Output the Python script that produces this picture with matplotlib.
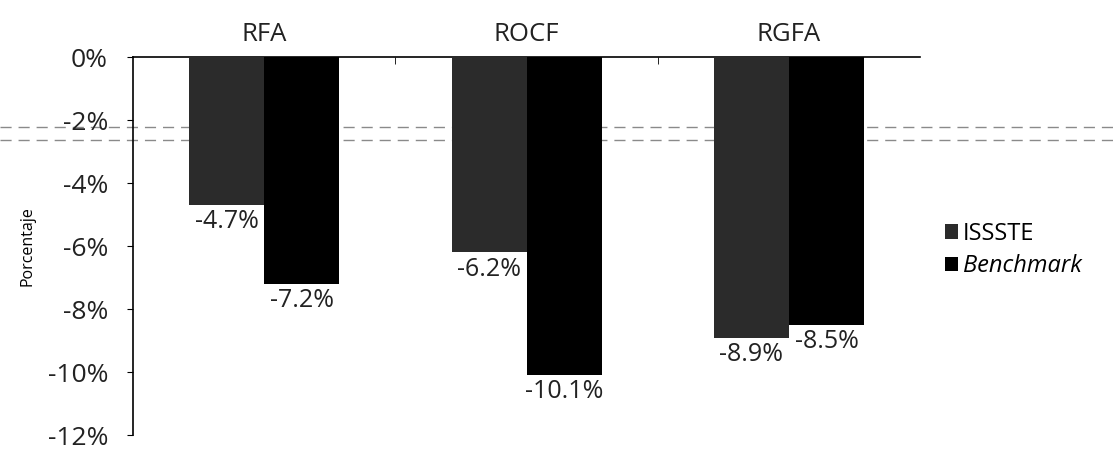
import numpy as np
import matplotlib
matplotlib.use('Agg')
import matplotlib.pyplot as plt
from matplotlib.lines import Line2D

plt.rcParams['font.family'] = ['Open Sans', 'DejaVu Sans']

# datos
categorias = ['RFA', 'ROCF', 'RGFA']
issste = [-4.7, -6.2, -8.9]
benchmark = [-7.2, -10.1, -8.5]
series = ['ISSSTE', 'Benchmark']
yticks = [0, -2, -4, -6, -8, -10, -12]

fig = plt.figure(figsize=(11.18, 4.5), dpi=100)
ax = fig.add_axes([0.119, 0.033, 0.704, 0.84])
ax.set_facecolor('none')

x = np.arange(len(categorias))
w = 0.286
b1 = ax.bar(x - w/2, issste, w, color='#2b2b2b', label=series[0], zorder=3)
b2 = ax.bar(x + w/2, benchmark, w, color='black', label=series[1], zorder=3)

# etiquetas de valor bajo cada barra
for bars, vals in ((b1, issste), (b2, benchmark)):
    for r, v in zip(bars, vals):
        ax.annotate(('%.1f%%' % v), (r.get_x() + r.get_width()/2, v),
                    xytext=(0, -3), textcoords='offset points',
                    ha='center', va='top', fontsize=18, color='#222')

ax.set_ylim(-12, 0)
ax.set_xlim(-0.5, 2.5)
ax.set_yticks(yticks)
ax.set_yticklabels(['%d%%' % t for t in yticks], fontsize=19, color='#222')
ax.tick_params(axis='y', direction='out', length=4, pad=14)

ax.xaxis.tick_top()
ax.set_xticks(x)
ax.set_xticklabels(categorias, fontsize=18.5, color='#222')
ax.set_xticks([0.5, 1.5], minor=True)
ax.tick_params(axis='x', which='major', length=0, pad=7)
ax.tick_params(axis='x', which='minor', direction='in', length=5, top=True)

ax.spines['bottom'].set_visible(False)
ax.spines['right'].set_visible(False)
for s in ('top', 'left'):
    ax.spines[s].set_linewidth(1.2)

ax.set_ylabel('Porcentaje', fontsize=11.5, labelpad=9)

leg = ax.legend(loc='center left', bbox_to_anchor=(1.005, 0.49), frameon=False,
                fontsize=17, handlelength=0.55, handleheight=0.55,
                handletextpad=0.2, labelspacing=0.35)
leg.get_texts()[1].set_style('italic')

# rayas del escaneo
for yy in (0.718, 0.69):
    fig.add_artist(Line2D([0, 1], [yy, yy], color='#8a8a8a', lw=1,
                          ls=(0, (8, 5)), zorder=-1))

fig.savefig('out.png', dpi=100)
